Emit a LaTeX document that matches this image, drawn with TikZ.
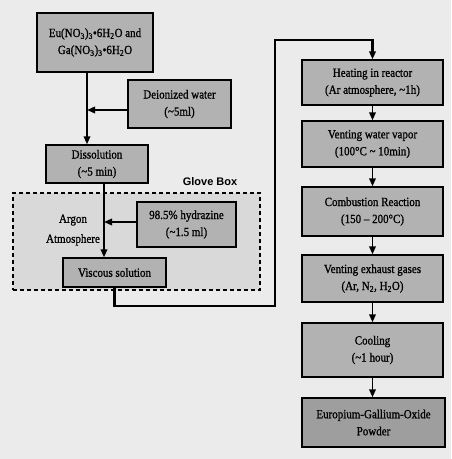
\documentclass[tikz,border=0pt]{standalone}
\usepackage{fontspec}
\setmainfont[FakeStretch=0.88,FakeBold=1]{Liberation Serif}
\newfontfamily\gbfont{Liberation Sans}
\usetikzlibrary{arrows.meta}
\newcommand{\tl}{\textasciitilde}
\begin{document}
\begin{tikzpicture}[x=1pt,y=-1pt,
 box/.style={draw=black,line width=1.3pt,fill=black!30,align=center,inner sep=0pt,
   font=\fontsize{12.5}{17}\selectfont},
 conn/.style={line width=1.8pt,-{Triangle[length=8pt,width=6.5pt]}},
 bus/.style={line width=2.3pt,-{Triangle[length=8pt,width=6.5pt]}},
 plain/.style={align=center,inner sep=0pt,font=\fontsize{12.5}{20}\selectfont},
]
\path[fill=black!8] (0,0) rectangle (451,459);
\useasboundingbox (0,0) rectangle (451,459);

% glove box
\node[draw=black,dash pattern=on 4pt off 3pt,line width=1.1pt,fill=black!15,
      minimum width=247pt,minimum height=97pt,inner sep=0pt] (glove) at (136.5,241.5) {};
\node[font=\gbfont\bfseries\fontsize{11}{13}\selectfont,inner sep=0pt] (gblabel) at (210,182) {Glove Box};

% left column
\node[box,minimum width=116pt,minimum height=59pt] (src) at (95,42.5)
  {Eu(NO\textsubscript{3})\textsubscript{3}•6H\textsubscript{2}O and\\Ga(NO\textsubscript{3})\textsubscript{3}•6H\textsubscript{2}O};
\node[box,minimum width=103pt,minimum height=48pt] (water) at (179.5,104)
  {Deionized water\\(\tl5ml)};
\node[box,minimum width=102pt,minimum height=38pt] (diss) at (97,164)
  {Dissolution\\(\tl5 min)};
\node[box,minimum width=99pt,minimum height=45pt] (hyd) at (186.5,224.5)
  {98.5\% hydrazine\\(\tl1.5 ml)};
\node[box,minimum width=103pt,minimum height=29pt] (visc) at (114.5,272.5)
  {Viscous solution};
\node[plain] (argon) at (73,230) {Argon\\Atmosphere};

% right column
\node[box,minimum width=141pt,minimum height=45pt] (heat) at (372.5,82.5)
  {Heating in reactor\\(Ar atmosphere, \tl1h)};
\node[box,minimum width=141pt,minimum height=46pt] (vap) at (372.5,144)
  {Venting water vapor\\(100°C \tl\ 10min)};
\node[box,minimum width=141pt,minimum height=49pt] (comb) at (372.5,211.5)
  {Combustion Reaction\\(150 – 200°C)};
\node[box,minimum width=141pt,minimum height=47pt] (exh) at (372.5,278.5)
  {Venting exhaust gases\\(Ar, N\textsubscript{2}, H\textsubscript{2}O)};
\node[box,minimum width=141pt,minimum height=54pt] (cool) at (372.5,350)
  {Cooling\\(\tl1 hour)};
\node[box,fill=black!38,minimum width=143pt,minimum height=49pt] (powder) at (373.5,422.5)
  {Europium-Gallium-Oxide\\Powder};

% connectors, left
\coordinate (l1) at (87,0);
\coordinate (l2) at (104,0);
\coordinate (wa) at (0,110);
\coordinate (ha) at (0,222);
\draw[conn] (src.south -| l1) -- (diss.north -| l1);
\draw[conn] (water.west |- wa) -- (l1 |- wa);
\draw[conn] (diss.south -| l2) -- (visc.north -| l2);
\draw[conn] (hyd.west |- ha) -- (l2 |- ha);

% bus
\coordinate (b1) at (275,306);
\coordinate (b2) at (275,40);
\draw[bus] (visc.south) |- (b1) -- (b2) -| (heat.north);

% connectors, right
\draw[conn] (heat.south) -- (vap.north);
\draw[conn] (vap.south) -- (comb.north);
\draw[conn] (comb.south) -- (exh.north);
\draw[conn] (exh.south) -- (cool.north);
\draw[conn] (cool.south) -- (powder.north -| cool.south);
\end{tikzpicture}
\end{document}
